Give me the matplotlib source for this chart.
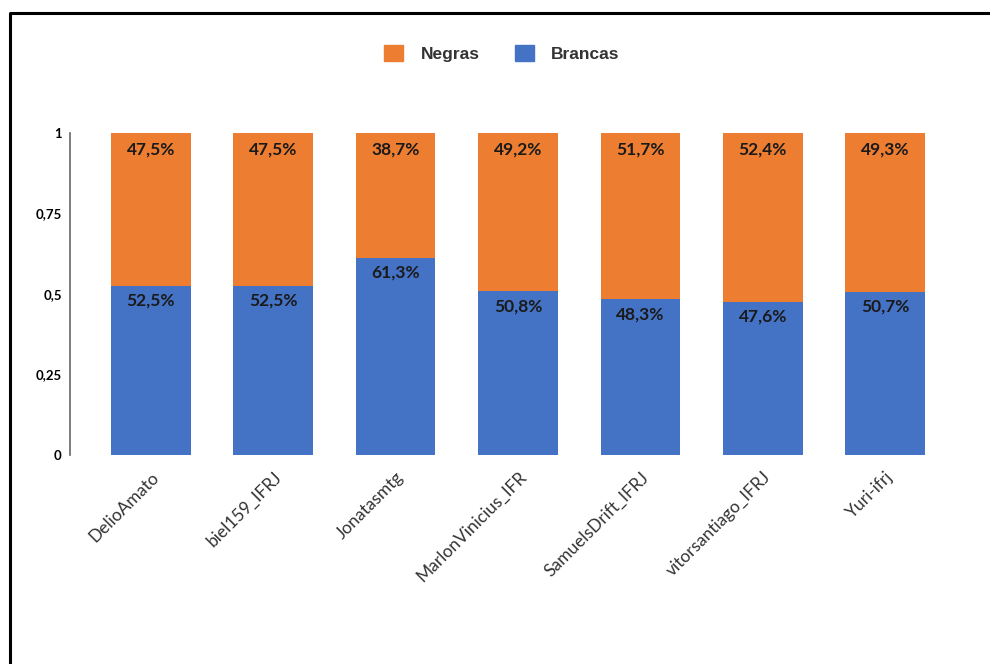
import numpy as np
import matplotlib
matplotlib.use("Agg")
import matplotlib.pyplot as plt
from matplotlib.lines import Line2D
from matplotlib.patches import Patch

players = ["DelioAmato", "biel159_IFRJ", "Jonatasmtg", "MarlonVinicius_IFR",
           "SamuelsDrift_IFRJ", "vitorsantiago_IFRJ", "Yuri-ifrj"]
brancas = [52.5, 52.5, 61.3, 50.8, 48.3, 47.6, 50.7]
negras = [47.5, 47.5, 38.7, 49.2, 51.7, 52.4, 49.3]
yticks = [0, 0.25, 0.5, 0.75, 1]
ytick_labels = ["0", "0,25", "0,5", "0,75", "1"]

blue = "#4472C4"
orange = "#ED7D31"

fig = plt.figure(figsize=(9.9, 6.64), dpi=100)
ax = fig.add_axes([0.0707, 0.3148, 0.905, 0.485])

x = np.arange(len(players))
b = np.array(brancas) / 100
n = np.array(negras) / 100
ax.bar(x, b, width=0.65, color=blue)
ax.bar(x, n, width=0.65, bottom=b, color=orange)

def pct(v):
    return f"{v:.1f}%".replace(".", ",")

for i in range(len(players)):
    ax.annotate(pct(brancas[i]), (x[i], b[i]), xytext=(0, -5), textcoords="offset points",
                ha="center", va="top", fontsize=12.5, fontweight="bold",
                family="Lato", color="#1a1a1a")
    ax.annotate(pct(negras[i]), (x[i], b[i] + n[i]), xytext=(0, -6.5), textcoords="offset points",
                ha="center", va="top", fontsize=12.5, fontweight="bold",
                family="Lato", color="#1a1a1a")

ax.set_ylim(0, 1)
ax.set_xlim(-0.66, len(players) - 1 + 0.66)
ax.set_yticks(yticks)
ax.set_yticklabels(ytick_labels, fontsize=9.5, fontweight="bold", family="Lato")
ax.tick_params(axis="y", length=0, pad=6)
ax.set_xticks(x)
ax.set_xticklabels(players, rotation=45, ha="right", rotation_mode="anchor",
                   fontsize=12.5, family="Lato", color="#333333")
ax.tick_params(axis="x", length=0, pad=10)
for s in ["top", "right", "bottom"]:
    ax.spines[s].set_visible(False)
ax.spines["left"].set_color("#666666")
ax.spines["left"].set_linewidth(1.2)

handles = [Patch(color=orange, label="Negras"), Patch(color=blue, label="Brancas")]
fig.legend(handles=handles, loc="center", bbox_to_anchor=(0.507, 0.92), ncol=2,
           frameon=False, prop={"family": "Liberation Sans", "size": 12.5, "weight": "bold"},
           handlelength=1.1, handleheight=1.1, columnspacing=2.0, handletextpad=1.0,
           labelcolor="#333333")

# frame of the cropped screenshot (top and left edges only)
fig.add_artist(Line2D([0.0101, 0.0101, 1.0], [0.0, 0.980, 0.980],
                      transform=fig.transFigure, color="black", linewidth=2.2))

fig.savefig("out.png", dpi=100, facecolor="white")
